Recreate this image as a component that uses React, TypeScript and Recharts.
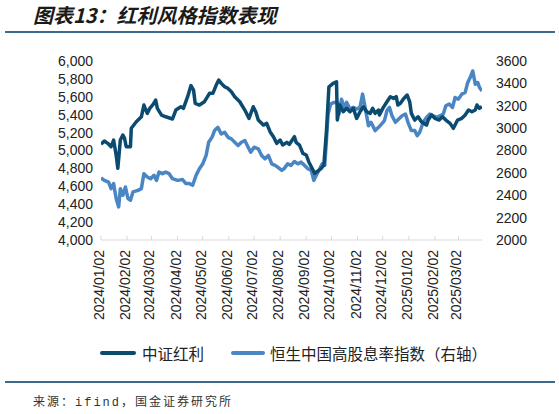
import React from 'react';
import { LineChart, Line, XAxis, YAxis } from 'recharts';

// 中证红利 (left axis)
const csiDates = [
  '2024/01/02', '2024/01/06', '2024/01/10', '2024/01/14', '2024/01/17', '2024/01/20', '2024/01/22', '2024/01/25',
  '2024/01/28', '2024/01/30', '2024/02/01', '2024/02/06', '2024/02/07', '2024/02/13', '2024/02/19', '2024/02/22',
  '2024/02/26', '2024/02/29', '2024/03/04', '2024/03/07', '2024/03/09', '2024/03/14', '2024/03/19', '2024/03/27',
  '2024/03/31', '2024/04/06', '2024/04/09', '2024/04/14', '2024/04/18', '2024/04/21', '2024/04/23', '2024/04/28',
  '2024/05/04', '2024/05/10', '2024/05/14', '2024/05/18', '2024/05/21', '2024/05/24', '2024/05/28', '2024/06/01',
  '2024/06/05', '2024/06/09', '2024/06/15', '2024/06/21', '2024/06/26', '2024/07/01', '2024/07/04', '2024/07/07',
  '2024/07/13', '2024/07/17', '2024/07/21', '2024/07/25', '2024/07/29', '2024/08/02', '2024/08/05', '2024/08/10',
  '2024/08/13', '2024/08/15', '2024/08/19', '2024/08/21', '2024/08/25', '2024/08/29', '2024/09/02', '2024/09/05',
  '2024/09/08', '2024/09/12', '2024/09/16', '2024/09/20', '2024/09/23', '2024/09/26', '2024/09/29', '2024/10/04',
  '2024/10/08', '2024/10/09', '2024/10/12', '2024/10/16', '2024/10/20', '2024/10/24', '2024/10/28', '2024/11/01',
  '2024/11/05', '2024/11/09', '2024/11/13', '2024/11/17', '2024/11/20', '2024/11/23', '2024/11/27', '2024/11/28',
  '2024/12/02', '2024/12/07', '2024/12/11', '2024/12/15', '2024/12/18', '2024/12/20', '2024/12/23', '2024/12/27',
  '2024/12/31', '2025/01/03', '2025/01/05', '2025/01/09', '2025/01/13', '2025/01/17', '2025/01/23', '2025/01/25',
  '2025/01/29', '2025/02/02', '2025/02/07', '2025/02/11', '2025/02/15', '2025/02/20', '2025/02/24', '2025/03/01',
  '2025/03/06', '2025/03/10', '2025/03/14', '2025/03/18', '2025/03/22', '2025/03/24', '2025/03/27', '2025/03/30',
];
const csiValues = [
  5069, 5106, 5080, 5042, 5117, 4950, 4801, 5117,
  5173, 5136, 5042, 5042, 5248, 5321, 5377, 5508,
  5415, 5471, 5516, 5564, 5471, 5396, 5377, 5352,
  5452, 5489, 5471, 5601, 5725, 5676, 5527, 5508,
  5545, 5639, 5639, 5731, 5787, 5750, 5712, 5694,
  5657, 5601, 5545, 5452, 5359, 5489, 5433, 5340,
  5284, 5303, 5210, 5154, 5080, 5117, 5061, 5091,
  5069, 5098, 5154, 5091, 5061, 4968, 4950, 4875,
  4819, 4745, 4771, 4801, 4838, 5210, 5712, 5750,
  5768, 5340, 5508, 5433, 5471, 5433, 5471, 5359,
  5433, 5489, 5433, 5415, 5471, 5415, 5452, 5396,
  5471, 5545, 5601, 5582, 5601, 5508, 5527, 5582,
  5620, 5545, 5415, 5340, 5377, 5321, 5284, 5340,
  5396, 5359, 5340, 5377, 5340, 5303, 5248, 5340,
  5359, 5396, 5452, 5433, 5452, 5508, 5471, 5489,
];

// 恒生中国高股息率指数 (right axis)
const hsDates = [
  '2024/01/02', '2024/01/06', '2024/01/11', '2024/01/14', '2024/01/17', '2024/01/20', '2024/01/23', '2024/01/25',
  '2024/01/28', '2024/01/31', '2024/02/03', '2024/02/06', '2024/02/09', '2024/02/15', '2024/02/19', '2024/02/22',
  '2024/02/26', '2024/03/01', '2024/03/05', '2024/03/08', '2024/03/11', '2024/03/15', '2024/03/19', '2024/03/23',
  '2024/03/27', '2024/04/02', '2024/04/08', '2024/04/12', '2024/04/16', '2024/04/20', '2024/04/24', '2024/04/28',
  '2024/05/02', '2024/05/06', '2024/05/09', '2024/05/13', '2024/05/16', '2024/05/20', '2024/05/24', '2024/05/28',
  '2024/06/01', '2024/06/05', '2024/06/09', '2024/06/13', '2024/06/17', '2024/06/21', '2024/06/25', '2024/06/28',
  '2024/07/02', '2024/07/07', '2024/07/11', '2024/07/15', '2024/07/19', '2024/07/23', '2024/07/27', '2024/07/30',
  '2024/08/04', '2024/08/07', '2024/08/11', '2024/08/15', '2024/08/19', '2024/08/23', '2024/08/27', '2024/08/31',
  '2024/09/04', '2024/09/08', '2024/09/11', '2024/09/14', '2024/09/18', '2024/09/21', '2024/09/24', '2024/09/26',
  '2024/09/28', '2024/10/01', '2024/10/05', '2024/10/09', '2024/10/11', '2024/10/14', '2024/10/17', '2024/10/20',
  '2024/10/24', '2024/10/28', '2024/11/01', '2024/11/05', '2024/11/08', '2024/11/11', '2024/11/15', '2024/11/18',
  '2024/11/23', '2024/11/27', '2024/12/01', '2024/12/04', '2024/12/07', '2024/12/10', '2024/12/13', '2024/12/17',
  '2024/12/21', '2024/12/25', '2024/12/29', '2025/01/01', '2025/01/05', '2025/01/09', '2025/01/12', '2025/01/15',
  '2025/01/19', '2025/01/23', '2025/01/27', '2025/01/31', '2025/02/04', '2025/02/08', '2025/02/12', '2025/02/15',
  '2025/02/19', '2025/02/23', '2025/02/26', '2025/03/02', '2025/03/06', '2025/03/10', '2025/03/13', '2025/03/16',
  '2025/03/19', '2025/03/22', '2025/03/25', '2025/03/27', '2025/03/30',
];
const hsValues = [
  2554, 2533, 2518, 2459, 2504, 2371, 2296, 2459,
  2400, 2474, 2371, 2356, 2430, 2444, 2459, 2593,
  2563, 2548, 2578, 2533, 2607, 2593, 2607, 2593,
  2548, 2533, 2540, 2504, 2504, 2489, 2578, 2637,
  2681, 2756, 2874, 2918, 2978, 3007, 2948, 2963,
  2918, 2904, 2874, 2844, 2874, 2889, 2829, 2785,
  2829, 2815, 2756, 2726, 2756, 2681, 2667, 2652,
  2622, 2640, 2681, 2667, 2702, 2681, 2696, 2667,
  2637, 2622, 2533, 2578, 2637, 2681, 2667, 2889,
  3126, 3215, 3230, 3230, 3126, 3259, 3185, 3230,
  3170, 3185, 3170, 3185, 3304, 3185, 3022, 3052,
  2978, 3007, 3040, 3067, 3156, 3185, 3111, 3052,
  3082, 3111, 3126, 3052, 2978, 2978, 2933, 2963,
  3052, 3096, 3126, 3111, 3096, 3111, 3126, 3200,
  3215, 3185, 3274, 3259, 3304, 3319, 3407, 3452,
  3511, 3393, 3407, 3363, 3333,
];

const xTickDates = [
  '2024/01/02', '2024/02/02', '2024/03/02', '2024/04/02', '2024/05/02', '2024/06/02', '2024/07/02', '2024/08/02',
  '2024/09/02', '2024/10/02', '2024/11/02', '2024/12/02', '2025/01/02', '2025/02/02', '2025/03/02',
];
const leftTicks = [4000, 4200, 4400, 4600, 4800, 5000, 5200, 5400, 5600, 5800, 6000];
const rightTicks = [2000, 2200, 2400, 2600, 2800, 3000, 3200, 3400, 3600];

const toTs = (s: string) => {
  const [y, m, d] = s.split('/').map(Number);
  return Date.UTC(y, m - 1, d);
};
const tsLabel = (t: number) => {
  const d = new Date(t);
  const mm = String(d.getUTCMonth() + 1).padStart(2, '0');
  const dd = String(d.getUTCDate()).padStart(2, '0');
  return `${d.getUTCFullYear()}/${mm}/${dd}`;
};

const csiData = csiDates.map((d, i) => ({ t: toTs(d), v: csiValues[i] }));
const hsData = hsDates.map((d, i) => ({ t: toTs(d), v: hsValues[i] }));

const DARK = '#0b4b70';
const LIGHT = '#4a86c4';
const RULE = '#3b6b8c';
const TXT = '#222';
const LATIN = "'Liberation Sans', Arial, 'Noto Sans CJK SC', sans-serif";

function DateTick(props: any) {
  const { x, y, payload } = props;
  return (
    <g>
      <line x1={x} x2={x} y1={y - 14} y2={y - 10} stroke="#d9d9d9" />
      <text
        x={x - 2}
        y={y}
        transform={`rotate(-90, ${x - 2}, ${y})`}
        textAnchor="end"
        dominantBaseline="central"
        fontSize={14}
        fontFamily={LATIN}
        fill={TXT}
      >
        {tsLabel(payload.value)}
      </text>
    </g>
  );
}

export default function App() {
  return (
    <div style={{ position: 'absolute', left: 0, top: 0, width: 559, height: 414, background: '#fff', overflow: 'hidden' }}>
      <div
        style={{
          position: 'absolute', left: 33, top: 3, fontSize: 20, fontWeight: 'bold', fontStyle: 'italic',
          fontFamily: "'Noto Sans CJK SC', sans-serif", color: '#1a1a1a', whiteSpace: 'nowrap', lineHeight: '24px',
        }}
      >
        图表13：红利风格指数表现
      </div>
      <div style={{ position: 'absolute', left: 5, top: 31, width: 550, height: 2, background: RULE }} />

      <div style={{ position: 'absolute', left: 0, top: 0 }}>
        <LineChart width={559} height={330} margin={{ top: 61, right: 0, bottom: 0, left: 0 }}>
          <XAxis
            dataKey="t"
            type="number"
            domain={[toTs('2024/01/02'), toTs('2025/03/30')]}
            ticks={xTickDates.map(toTs)}
            interval={0}
            height={90}
            axisLine={{ stroke: '#d9d9d9' }}
            tickLine={false}
            tickSize={0}
            tickMargin={10}
            tick={<DateTick />}
            allowDataOverflow
          />
          <YAxis
            yAxisId="left"
            orientation="left"
            width={101}
            domain={[4000, 6000]}
            ticks={leftTicks}
            interval={0}
            axisLine={false}
            tickLine={false}
            tickSize={5}
            tickMargin={3}
            tick={{ fontSize: 14, fill: TXT, fontFamily: LATIN }}
            tickFormatter={(v) => v.toLocaleString('en-US')}
          />
          <YAxis
            yAxisId="right"
            orientation="right"
            width={77}
            domain={[2000, 3600]}
            ticks={rightTicks}
            interval={0}
            axisLine={false}
            tickLine={false}
            tickSize={6}
            tickMargin={8}
            tick={{ fontSize: 14, fill: TXT, fontFamily: LATIN }}
          />
          <Line
            yAxisId="right"
            data={hsData}
            dataKey="v"
            name="恒生中国高股息率指数（右轴）"
            stroke={LIGHT}
            strokeWidth={3.5}
            dot={false}
            strokeLinejoin="round"
            isAnimationActive={false}
          />
          <Line
            yAxisId="left"
            data={csiData}
            dataKey="v"
            name="中证红利"
            stroke={DARK}
            strokeWidth={3.5}
            dot={false}
            strokeLinejoin="round"
            isAnimationActive={false}
          />
        </LineChart>
      </div>

      <div
        style={{
          position: 'absolute', left: 100, top: 342, display: 'flex', alignItems: 'center',
          fontFamily: "'Noto Sans CJK SC', sans-serif", fontSize: 15.5, color: TXT, whiteSpace: 'nowrap',
        }}
      >
        <span style={{ display: 'inline-block', width: 36, height: 4, borderRadius: 2, background: DARK, marginRight: 6 }} />
        <span>中证红利</span>
        <span style={{ display: 'inline-block', width: 34, height: 4, borderRadius: 2, background: LIGHT, marginLeft: 27, marginRight: 5 }} />
        <span>恒生中国高股息率指数（右轴）</span>
      </div>

      <div style={{ position: 'absolute', left: 5, top: 381, width: 550, height: 2, background: RULE }} />
      <div
        style={{
          position: 'absolute', left: 33, top: 392, fontSize: 12, letterSpacing: 2,
          fontFamily: "'Liberation Mono', 'Noto Sans CJK SC', monospace", color: '#333', whiteSpace: 'nowrap',
        }}
      >
        来源：ifind，国金证券研究所
      </div>
    </div>
  );
}
